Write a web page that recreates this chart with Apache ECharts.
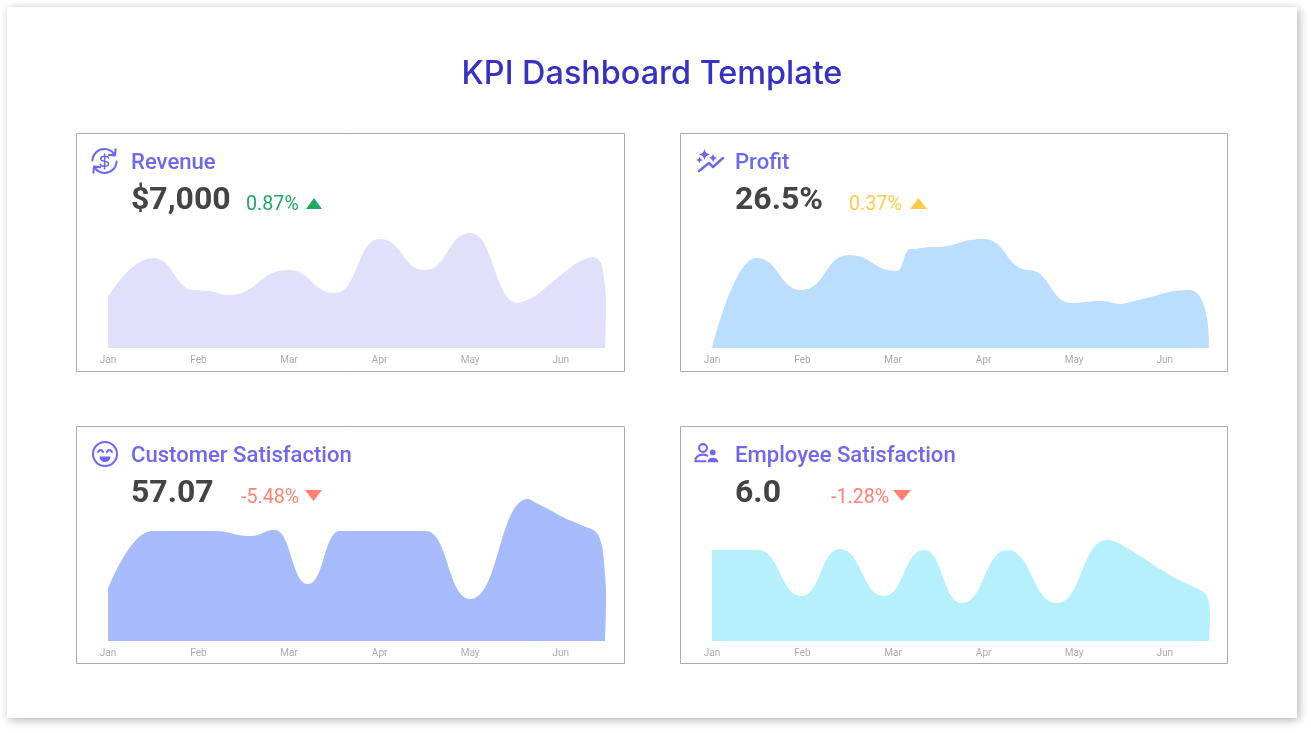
<!DOCTYPE html>
<html>
<head>
<meta charset="utf-8">
<title>KPI Dashboard Template</title>
<script src="https://cdn.jsdelivr.net/npm/echarts@6/dist/echarts.min.js"></script>
<style>
  html, body { margin: 0; padding: 0; background: #fff; }
  #chart { width: 1311px; height: 733px; }
</style>
</head>
<body>
<div id="chart"></div>
<script>
// Axis labels, one per whole month
const monthLabels = ['Jan', 'Feb', 'Mar', 'Apr', 'May', 'Jun'];

// Each KPI trend: position along the axis in months since Jan, and the index value
const revenueMonths = [0, .50, .96, 1.10, 1.33, 1.99, 2.51, 3.0, 3.50, 4.0, 4.53, 4.70];
const revenueValues = [51, 90, 58, 57, 53, 78, 55, 109, 78, 115, 45, 51];

const profitMonths = [0, .49, .99, 1.51, 2.04, 2.19, 2.45, 3.0, 3.50, 3.97, 4.29, 4.53, 5.10];
const profitValues = [0, 90, 58, 93, 77, 99, 101, 109, 78, 45, 47, 44, 57];

const customerMonths = [0, .49, 1.16, 1.58, 1.84, 2.21, 2.56, 3.51, 4.0, 4.64, 4.71];
const customerValues = [52, 110, 110, 105, 111, 57, 110, 110, 42, 142, 138];

const employeeMonths = [0, .51, .99, 1.41, 1.90, 2.34, 2.76, 3.26, 3.81, 4.36, 4.58];
const employeeValues = [91, 91, 45, 92, 45, 91, 38, 91, 38, 101, 93];

// Closing stretch of each trend, which runs on a steady slope and then falls away at June
const revenueEndMonths = [4.53, 4.70, 4.96, 5.18, 5.30, 5.35, 5.42, 5.46, 5.5, 5.49];
const revenueEndValues = [45, 51, 70, 85, 90, 91, 88, 81, 43, 0];

const profitEndMonths = [4.53, 4.80, 5.10, 5.28, 5.39, 5.47, 5.49];
const profitEndValues = [44, 50, 57, 58, 51, 28, 0];

const customerEndMonths = [4.64, 4.84, 5.02, 5.25, 5.39, 5.45, 5.47, 5.5, 5.49];
const customerEndValues = [142, 133, 124, 115, 109, 97, 86, 46, 0];

const employeeEndMonths = [4.36, 4.58, 5.02, 5.25, 5.39, 5.46, 5.49, 5.5, 5.49];
const employeeEndValues = [101, 93, 68, 57, 51, 46, 37, 23, 0];

// Headline figures
const kpiNames = ['Revenue', 'Profit', 'Customer Satisfaction', 'Employee Satisfaction'];
const kpiFigures = ['$7,000', '26.5%', '57.07', '6.0'];
const kpiChanges = ['0.87%', '0.37%', '-5.48%', '-1.28%'];

const accent = '#6E67F0';
const figureColor = '#444444';
const green = '#1FA862', amber = '#FFCB47', coral = '#FF8172';

// Panel layout per KPI
const panels = [
  { months: revenueMonths,  values: revenueValues,  endMonths: revenueEndMonths,  endValues: revenueEndValues,  fill: '#E1E0FB', left: 108, top: 198, box: [76.5, 133.5, 548, 238],  tx: 131, ty: 163, fy: 201, cx: 246, cc: green, tri: [306, 322, 198, 209, 1] },
  { months: profitMonths,   values: profitValues,   endMonths: profitEndMonths,   endValues: profitEndValues,   fill: '#BBDEFE', left: 712, top: 198, box: [680.5, 133.5, 547, 238], tx: 735, ty: 163, fy: 201, cx: 849, cc: amber, tri: [910, 927, 198, 209, 1] },
  { months: customerMonths, values: customerValues, endMonths: customerEndMonths, endValues: customerEndValues, fill: '#A6BAFC', left: 108, top: 491, box: [76.5, 426.5, 548, 237],  tx: 131, ty: 456, fy: 494, cx: 241, cc: coral, tri: [305, 322, 490, 501, 0] },
  { months: employeeMonths, values: employeeValues, endMonths: employeeEndMonths, endValues: employeeEndValues, fill: '#B7F0FD', left: 712, top: 491, box: [680.5, 426.5, 547, 237], tx: 735, ty: 456, fy: 494, cx: 831, cc: coral, tri: [893, 911, 490, 501, 0] }
];

function zipSeries(xs, ys) {
  return xs.map((x, i) => [x, ys[i]]);
}

function sparkle(cx, cy, r) {
  const k = r * 0.18;
  return `M${cx} ${cy - r}Q${cx + k} ${cy - k} ${cx + r} ${cy}Q${cx + k} ${cy + k} ${cx} ${cy + r}Q${cx - k} ${cy + k} ${cx - r} ${cy}Q${cx - k} ${cy - k} ${cx} ${cy - r}Z`;
}

const strokeIcon = { stroke: accent, lineWidth: 2.1, fill: null, lineCap: 'round', lineJoin: 'round' };
const fillIcon = { fill: accent, stroke: null };

// Icon outlines are registered as named shapes so the graphic component can place them
let iconCount = 0;
function iconPath(x, y, pathData, style) {
  const name = 'kpiIcon' + (iconCount++);
  echarts.graphic.registerShape(name, echarts.graphic.extendPath(pathData, {}));
  return { type: name, x, y, z: 6, style };
}

// Small line icons next to each KPI name
const icons = [
  // Circular arrows around a dollar sign
  iconPath(91, 148, 'M1.4 12.5A12 12 0 0 1 23 5.8M24.6 1.4L24 7.4L18 6.9M25.6 13.5A12 12 0 0 1 4 20.2M2.4 24.6L3 18.6L9 19.1', strokeIcon),
  iconPath(91, 148, 'M17.6 10C17 7.8 10 7.2 9.6 10.8C9.4 14.6 17.8 12 17.6 16C17.2 19.2 10.2 19 9.4 16.2M13.6 6V21', { ...strokeIcon, lineWidth: 1.5 }),
  // Rising line with sparkles
  iconPath(696, 149, 'M3 22L13 14L17 18L27 9', { ...strokeIcon, lineWidth: 2.5 }),
  iconPath(696, 149, sparkle(8.5, 5.5, 5.5) + sparkle(3.5, 11, 3.2) + sparkle(17, 9, 4.2), fillIcon),
  // Smiling face
  iconPath(92, 441, 'M25 13A12 12 0 1 1 1 13A12 12 0 1 1 25 13ZM6 11Q8.6 7 11.2 11M14.8 11Q17.4 7 20 11', { ...strokeIcon, lineWidth: 2 }),
  iconPath(92, 441, 'M7.5 15.5H18.5A5.5 5.5 0 0 1 7.5 15.5Z', fillIcon),
  // Two people
  iconPath(694, 441, 'M12.9 7A3.9 3.9 0 1 1 5.1 7A3.9 3.9 0 1 1 12.9 7ZM1.3 20.3C1.3 15.5 5 13.6 9 13.6C10.5 13.6 12 13.9 13.2 14.6M1.3 20.3H11.5', strokeIcon),
  iconPath(694, 441, 'M21.6 11.4A2.9 2.9 0 1 1 15.8 11.4A2.9 2.9 0 1 1 21.6 11.4ZM13.6 21.2C13.6 15.4 24.2 15.4 24.4 21.2Z', fillIcon)
];

const graphics = [
  // Slide card with its soft drop shadow
  { type: 'rect', z: -1, shape: { x: 7, y: 7, width: 1290, height: 711 },
    style: { fill: '#fff', shadowBlur: 9, shadowOffsetX: 2, shadowOffsetY: 2, shadowColor: 'rgba(0,0,0,0.3)' } },
  { type: 'text', z: 6, x: 652, y: 74,
    style: { text: 'KPI Dashboard Template', fill: '#3730C4', font: '500 32.4px Inter', align: 'center', verticalAlign: 'middle' } },
  ...icons
];

panels.forEach((p, i) => {
  const [bx, by, bw, bh] = p.box;
  const [tl, tr, tTop, tBot, up] = p.tri;
  graphics.push(
    { type: 'rect', z: -1, shape: { x: bx, y: by, width: bw, height: bh },
      style: { fill: 'transparent', stroke: '#ABABAB', lineWidth: 1 } },
    { type: 'text', z: 6, x: p.tx, y: p.ty,
      style: { text: kpiNames[i], fill: accent, font: '500 22.1px Roboto', align: 'left', verticalAlign: 'middle' } },
    { type: 'text', z: 6, x: p.tx, y: p.fy,
      style: { text: kpiFigures[i], fill: figureColor, font: '700 32px Roboto', align: 'left', verticalAlign: 'middle' } },
    { type: 'text', z: 6, x: p.cx, y: p.fy + 4,
      style: { text: kpiChanges[i], fill: p.cc, font: '400 19.7px Roboto', align: 'left', verticalAlign: 'middle' } },
    { type: 'polygon', z: 6,
      shape: { points: up ? [[tl, tBot], [tr, tBot], [(tl + tr) / 2, tTop]] : [[tl, tTop], [tr, tTop], [(tl + tr) / 2, tBot]] },
      style: { fill: p.cc } }
  );
});

const option = {
  animation: false,
  backgroundColor: '#fff',
  graphic: { elements: graphics },
  grid: panels.map(p => ({ left: p.left, top: p.top, width: 498, height: 150, containLabel: false })),
  xAxis: panels.map((p, i) => ({
    type: 'value', gridIndex: i, min: 0, max: 5.5, interval: 1,
    splitLine: { show: false }, axisLine: { show: false }, axisTick: { show: false },
    axisLabel: {
      color: '#ABABAB', fontFamily: 'Roboto', fontSize: 10, margin: 7, showMaxLabel: false,
      formatter: v => monthLabels[v] || ''
    }
  })),
  yAxis: panels.map((p, i) => ({ type: 'value', gridIndex: i, min: 0, max: 150, show: false })),
  series: panels.flatMap((p, i) => {
    const area = { type: 'line', xAxisIndex: i, yAxisIndex: i, symbol: 'none', clip: false,
      lineStyle: { width: 0 }, areaStyle: { color: p.fill, opacity: 1 } };
    return [
      { ...area, data: zipSeries(p.months, p.values), smooth: 0.5, smoothMonotone: 'x' },
      { ...area, data: zipSeries(p.endMonths, p.endValues), smooth: 0.35 }
    ];
  })
};

echarts.init(document.getElementById('chart')).setOption(option);
</script>
</body>
</html>
